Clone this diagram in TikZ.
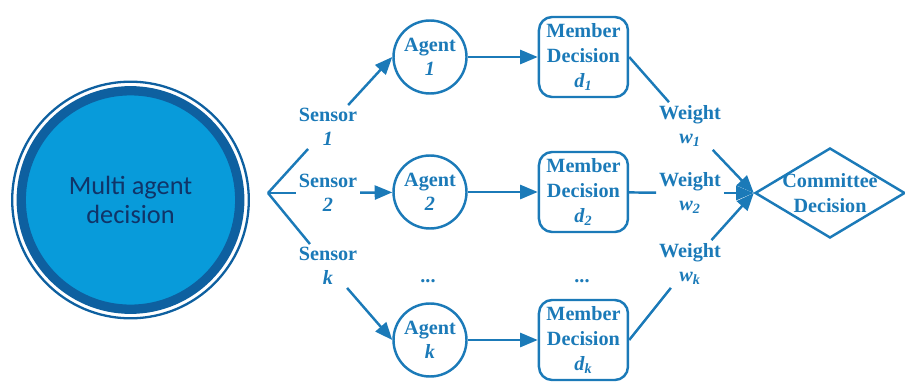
\documentclass[tikz,border=0pt]{standalone}
\usepackage{fontspec}
\setmainfont{Liberation Serif}
\newfontfamily\carlito{Carlito}
\usepackage{tikz}
\usetikzlibrary{positioning, arrows.meta, shapes.geometric}
\definecolor{linkblue}{RGB}{27,122,184}
\definecolor{discfill}{RGB}{8,155,218}
\definecolor{discring}{RGB}{14,96,160}
\definecolor{disctext}{RGB}{16,52,104}

\begin{document}
\begin{tikzpicture}[
  node distance=1.4cm,
  disc/.style={circle, fill=discfill, draw=discring, line width=0.186cm,
               minimum size=4.37cm, inner sep=0pt, align=center,
               font=\carlito\fontsize{15}{16.5}\selectfont, text=disctext},
  agent/.style={circle, draw=linkblue, line width=1.4pt, minimum size=1.46cm,
                inner sep=0pt, align=center, text=linkblue,
                font=\bfseries\fontsize{11.5}{14}\selectfont},
  member/.style={draw=linkblue, line width=1.4pt, rounded corners=7.5pt,
                 minimum width=1.78cm, minimum height=1.6cm, inner sep=0pt,
                 align=center, text=linkblue,
                 font=\bfseries\fontsize{11.5}{14}\selectfont},
  judge/.style={diamond, draw=linkblue, line width=1.4pt, aspect=1.67,
                minimum width=3cm, minimum height=1.8cm, inner sep=-1.5pt,
                align=center, text=linkblue,
                font=\bfseries\fontsize{11.5}{14}\selectfont},
  tag/.style={inner sep=1.5pt, align=center, text=linkblue,
              font=\bfseries\fontsize{11.5}{14}\selectfont},
  link/.style={line width=1.4pt, color=linkblue},
  arr/.style={link, -{Triangle[length=10pt, width=8pt]}},
]
  \useasboundingbox (0,0) rectangle (18.1,-7.62);

  % Left: the whole system
  \node[disc] (mad) at (2.61,-4.0) {Multi agent\\decision};
  \draw[discring, line width=0.046cm] (mad.center) circle (2.366cm);

  % Sensors fan out from one point
  \coordinate (fork) at (5.36,-3.86);
  \node[tag] (s1) at (6.56,-2.54) {Sensor\\\textit{1}};
  \node[tag] (s2) at (6.56,-3.86) {Sensor\\\textit{2}};
  \node[tag] (sk) at (6.56,-5.32) {Sensor\\\textit{k}};

  % Agents and their decisions
  \node[agent] (ag1) at (8.6,-1.14) {Agent\\\textit{1}};
  \node[agent] (ag2) at (8.6,-3.84) {Agent\\\textit{2}};
  \node[agent] (agk) at (8.6,-6.8) {Agent\\\textit{k}};
  \node[member, right=of ag1] (m1) {Member\\Decision\\\textit{d\textsubscript{1}}};
  \node[member, right=of ag2] (m2) {Member\\Decision\\\textit{d\textsubscript{2}}};
  \node[member, right=of agk] (mk) {Member\\Decision\\\textit{d\textsubscript{k}}};
  \node[tag] (gapa) at (8.56,-5.62) {...};
  \node[tag] (gapm) at (11.64,-5.62) {...};

  % Weights and the final vote
  \node[tag] (w1) at (13.8,-2.52) {Weight\\\textit{w\textsubscript{1}}};
  \node[tag] (w2) at (13.8,-3.86) {Weight\\\textit{w\textsubscript{2}}};
  \node[tag] (wk) at (13.8,-5.28) {Weight\\\textit{w\textsubscript{k}}};
  \node[judge] (cd) at (16.6,-3.86) {Committee\\Decision};

  % Arrows
  \draw[link] (fork) -- (s1);
  \draw[link] (fork) -- (s2);
  \draw[link] (fork) -- (sk);
  \draw[arr] (s1) -- (ag1.west);
  \draw[arr] (s2) -- (ag2);
  \draw[arr] (sk) -- (agk.west);
  \draw[arr] (ag1) -- (m1);
  \draw[arr] (ag2) -- (m2);
  \draw[arr] (agk) -- (mk);
  \draw[link] (m1.east) -- (w1);
  \draw[link] (m2) -- (w2);
  \draw[link] (mk.east) -- (wk);
  \draw[arr] (w1) -- (cd.west);
  \draw[arr] (w2) -- (cd.west);
  \draw[arr] (wk) -- (cd.west);
\end{tikzpicture}
\end{document}
